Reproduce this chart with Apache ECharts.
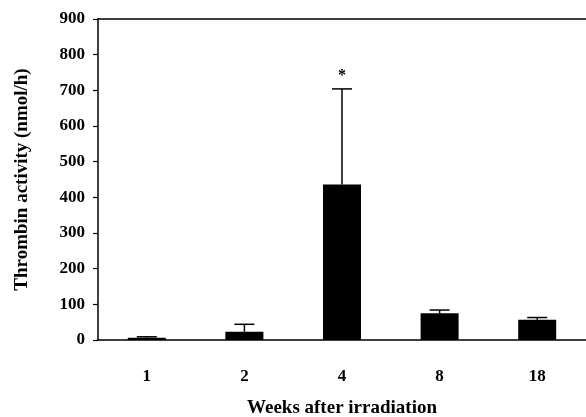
<!DOCTYPE html>
<html>
<head>
<meta charset="utf-8">
<script src="https://cdn.jsdelivr.net/npm/echarts@6/dist/echarts.min.js"></script>
<style>html,body{margin:0;padding:0;background:#fff;}#c{width:586px;height:417px;}</style>
</head>
<body>
<div id="c"></div>
<script>
const categories = ['1', '2', '4', '8', '18'];
const means = [6, 23, 436, 75, 57];
const errors = [3, 21, 268, 9, 6];
const marks = ['', '', '*', '', ''];
const yTicks = [0, 100, 200, 300, 400, 500, 600, 700, 800, 900];

const FONT = "'Liberation Serif', 'Times New Roman', serif";
const chart = echarts.init(document.getElementById('c'), null, {renderer: 'canvas'});
const errData = categories.map((c, i) => [i, means[i], means[i] + errors[i], marks[i]]);

chart.setOption({
  animation: false,
  backgroundColor: '#fff',
  grid: {left: 98, right: 0, top: 19, bottom: 77, containLabel: false, outerBoundsMode: 'none'},
  xAxis: [{
    type: 'category',
    data: categories,
    position: 'bottom',
    axisLine: {lineStyle: {color: '#000', width: 1.5}},
    axisTick: {show: false},
    axisLabel: {color: '#000', fontFamily: FONT, fontWeight: 'bold', fontSize: 17, margin: 28},
    name: 'Weeks after irradiation',
    nameLocation: 'middle',
    nameGap: 59,
    nameTextStyle: {color: '#000', fontFamily: FONT, fontWeight: 'bold', fontSize: 19}
  }, {
    type: 'category',
    data: categories,
    position: 'top',
    axisLine: {lineStyle: {color: '#000', width: 1.5}},
    axisTick: {show: false},
    axisLabel: {show: false}
  }],
  yAxis: {
    type: 'value',
    min: 0, max: 900, interval: 100,
    axisLine: {show: true, lineStyle: {color: '#000', width: 1.5}},
    axisTick: {show: true, length: 5, lineStyle: {color: '#000', width: 1.2}},
    splitLine: {show: false},
    axisLabel: {color: '#000', fontFamily: FONT, fontWeight: 'bold', fontSize: 17, margin: 13,
      formatter: v => yTicks.includes(v) ? String(v) : ''},
    name: 'Thrombin activity (nmol/h)',
    nameLocation: 'middle',
    nameGap: 66,
    nameTextStyle: {color: '#000', fontFamily: FONT, fontWeight: 'bold', fontSize: 19}
  },
  series: [{
    type: 'bar',
    data: means,
    barWidth: 38,
    itemStyle: {color: '#000'},
    xAxisIndex: 0
  }, {
    type: 'custom',
    xAxisIndex: 0,
    data: errData,
    z: 5,
    renderItem: function (params, api) {
      const x = api.value(0);
      const base = api.coord([x, api.value(1)]);
      const top = api.coord([x, api.value(2)]);
      const half = 10;
      const children = [
        {type: 'line', shape: {x1: base[0], y1: base[1], x2: top[0], y2: top[1]}, style: {stroke: '#000', lineWidth: 1.5}},
        {type: 'line', shape: {x1: top[0] - half, y1: top[1], x2: top[0] + half, y2: top[1]}, style: {stroke: '#000', lineWidth: 1.5}}
      ];
      const m = api.value(3);
      if (m) {
        children.push({type: 'text', style: {text: m, x: top[0], y: top[1] - 13, align: 'center', verticalAlign: 'middle',
          font: 'bold 16px ' + FONT, fill: '#000'}});
      }
      return {type: 'group', children: children};
    }
  }]
});
</script>
</body>
</html>
